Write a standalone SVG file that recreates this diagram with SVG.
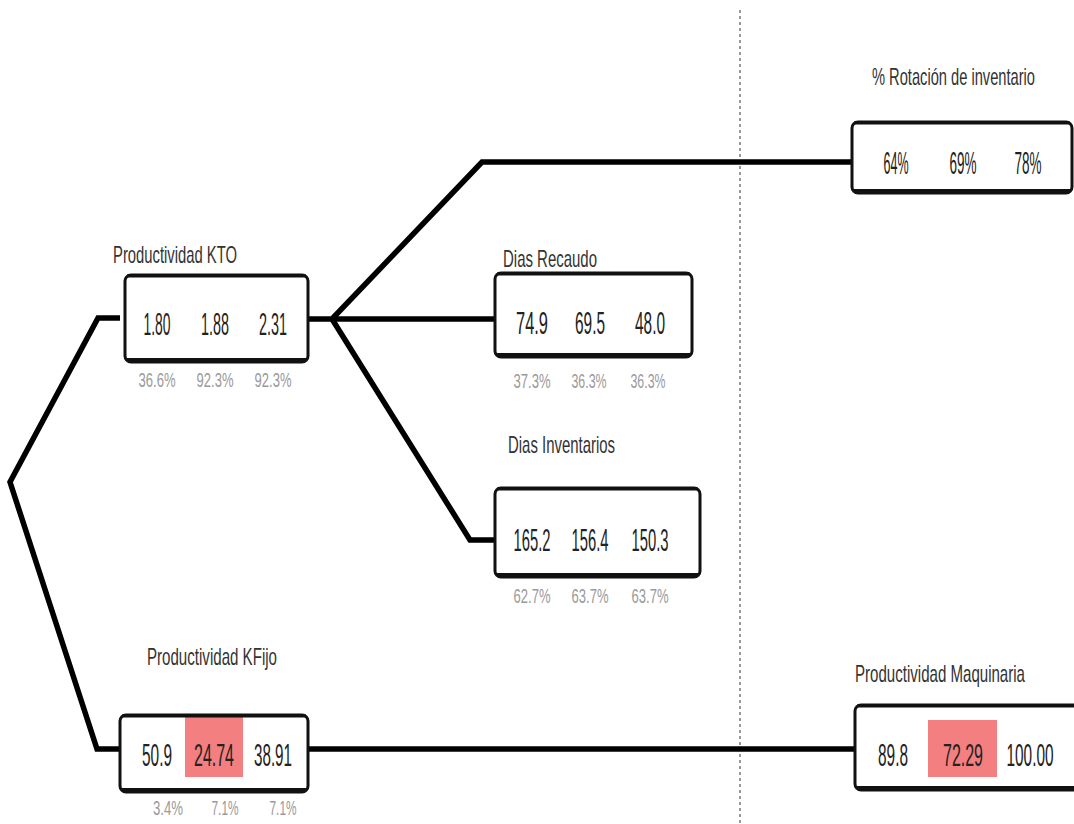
<svg xmlns="http://www.w3.org/2000/svg" width="1074" height="824" viewBox="0 0 1074 824">
<style>
.box{fill:#fff;stroke:#111;stroke-width:3}
.edge{fill:none;stroke:#000;stroke-width:5.5;stroke-linejoin:miter}
.val{font-family:"Liberation Sans",Arial,sans-serif;font-size:32px;fill:#222;text-anchor:middle}
.pct{font-family:"Liberation Sans",Arial,sans-serif;font-size:20px;fill:#9a9a9a;text-anchor:middle}
.lbl{font-family:"Liberation Sans",Arial,sans-serif;font-size:24px;fill:#333}
.hl{fill:#f47f80}
</style>
<rect width="1074" height="824" fill="#fff"/>
<line x1="740" y1="10" x2="740" y2="824" stroke="#333" stroke-width="1" stroke-dasharray="3,3"/>
<g id="connectors">
<polyline class="edge" points="120,318 98,318 10,482 97,749 120,749"/>
<polyline class="edge" points="308,319 332,319 482,162 852,162"/>
<line class="edge" x1="332" y1="319" x2="495" y2="319"/>
<polyline class="edge" points="332,319 470,540 495,540"/>
<line class="edge" x1="308" y1="749" x2="855" y2="749"/>
</g>
<g id="kto">
<text class="lbl" x="113" y="263" textLength="124" lengthAdjust="spacingAndGlyphs">Productividad KTO</text>
<rect class="box" x="125" y="275" width="183" height="87" rx="6"/>
<line x1="127" y1="276" x2="306" y2="276" stroke="#111" stroke-width="3"/>
<line x1="127" y1="360" x2="306" y2="360" stroke="#111" stroke-width="4"/>
<text class="val" x="157" y="335" textLength="27" lengthAdjust="spacingAndGlyphs">1.80</text>
<text class="val" x="215" y="335" textLength="28" lengthAdjust="spacingAndGlyphs">1.88</text>
<text class="val" x="273" y="335" textLength="28" lengthAdjust="spacingAndGlyphs">2.31</text>
<text class="pct" x="157" y="387" textLength="37" lengthAdjust="spacingAndGlyphs">36.6%</text>
<text class="pct" x="215" y="387" textLength="37" lengthAdjust="spacingAndGlyphs">92.3%</text>
<text class="pct" x="273" y="387" textLength="37" lengthAdjust="spacingAndGlyphs">92.3%</text>
</g>
<g id="recaudo">
<text class="lbl" x="503" y="267" textLength="94" lengthAdjust="spacingAndGlyphs">Dias Recaudo</text>
<rect class="box" x="495" y="273" width="197" height="84" rx="6"/>
<line x1="497" y1="274" x2="690" y2="274" stroke="#111" stroke-width="3"/>
<line x1="497" y1="355" x2="690" y2="355" stroke="#111" stroke-width="4"/>
<text class="val" x="532" y="334" textLength="32" lengthAdjust="spacingAndGlyphs">74.9</text>
<text class="val" x="590" y="334" textLength="30" lengthAdjust="spacingAndGlyphs">69.5</text>
<text class="val" x="650" y="334" textLength="30" lengthAdjust="spacingAndGlyphs">48.0</text>
<text class="pct" x="532" y="388" textLength="37" lengthAdjust="spacingAndGlyphs">37.3%</text>
<text class="pct" x="589" y="388" textLength="35" lengthAdjust="spacingAndGlyphs">36.3%</text>
<text class="pct" x="648" y="388" textLength="35" lengthAdjust="spacingAndGlyphs">36.3%</text>
</g>
<g id="inventarios">
<text class="lbl" x="508" y="453" textLength="107" lengthAdjust="spacingAndGlyphs">Dias Inventarios</text>
<rect class="box" x="495" y="488" width="205" height="89" rx="6"/>
<line x1="497" y1="489" x2="698" y2="489" stroke="#111" stroke-width="3"/>
<line x1="497" y1="575" x2="698" y2="575" stroke="#111" stroke-width="4"/>
<text class="val" x="532" y="551" textLength="37" lengthAdjust="spacingAndGlyphs">165.2</text>
<text class="val" x="590" y="551" textLength="37" lengthAdjust="spacingAndGlyphs">156.4</text>
<text class="val" x="650" y="551" textLength="37" lengthAdjust="spacingAndGlyphs">150.3</text>
<text class="pct" x="532" y="603" textLength="37" lengthAdjust="spacingAndGlyphs">62.7%</text>
<text class="pct" x="590" y="603" textLength="37" lengthAdjust="spacingAndGlyphs">63.7%</text>
<text class="pct" x="650" y="603" textLength="37" lengthAdjust="spacingAndGlyphs">63.7%</text>
</g>
<g id="rotacion">
<text class="lbl" x="872" y="85" textLength="163" lengthAdjust="spacingAndGlyphs">% Rotación de inventario</text>
<rect class="box" x="852" y="122" width="220" height="71" rx="6"/>
<line x1="854" y1="123" x2="1070" y2="123" stroke="#111" stroke-width="3"/>
<line x1="854" y1="191" x2="1070" y2="191" stroke="#111" stroke-width="4"/>
<text class="val" x="896" y="174" textLength="25" lengthAdjust="spacingAndGlyphs">64%</text>
<text class="val" x="963" y="174" textLength="27" lengthAdjust="spacingAndGlyphs">69%</text>
<text class="val" x="1028" y="174" textLength="27" lengthAdjust="spacingAndGlyphs">78%</text>
</g>
<g id="kfijo">
<text class="lbl" x="147" y="665" textLength="130" lengthAdjust="spacingAndGlyphs">Productividad KFijo</text>
<rect class="box" x="120" y="715" width="188" height="77" rx="6"/>
<rect class="hl" x="185" y="716" width="58" height="61"/>
<line x1="122" y1="716" x2="306" y2="716" stroke="#111" stroke-width="3"/>
<line x1="122" y1="790" x2="306" y2="790" stroke="#111" stroke-width="4"/>
<text class="val" x="157" y="766" textLength="30" lengthAdjust="spacingAndGlyphs">50.9</text>
<text class="val" x="214" y="766" textLength="40" lengthAdjust="spacingAndGlyphs">24.74</text>
<text class="val" x="273" y="766" textLength="38" lengthAdjust="spacingAndGlyphs">38.91</text>
<text class="pct" x="168" y="815" textLength="30" lengthAdjust="spacingAndGlyphs">3.4%</text>
<text class="pct" x="225" y="815" textLength="27" lengthAdjust="spacingAndGlyphs">7.1%</text>
<text class="pct" x="283" y="815" textLength="27" lengthAdjust="spacingAndGlyphs">7.1%</text>
</g>
<g id="maquinaria">
<text class="lbl" x="855" y="682" textLength="170" lengthAdjust="spacingAndGlyphs">Productividad Maquinaria</text>
<rect class="box" x="855" y="705" width="230" height="85" rx="6"/>
<rect class="hl" x="928" y="720" width="69" height="57"/>
<line x1="857" y1="706" x2="1074" y2="706" stroke="#111" stroke-width="3"/>
<line x1="857" y1="788" x2="1074" y2="788" stroke="#111" stroke-width="4"/>
<text class="val" x="893" y="766" textLength="30" lengthAdjust="spacingAndGlyphs">89.8</text>
<text class="val" x="963" y="766" textLength="40" lengthAdjust="spacingAndGlyphs">72.29</text>
<text class="val" x="1030" y="766" textLength="47" lengthAdjust="spacingAndGlyphs">100.00</text>
</g>
</svg>
